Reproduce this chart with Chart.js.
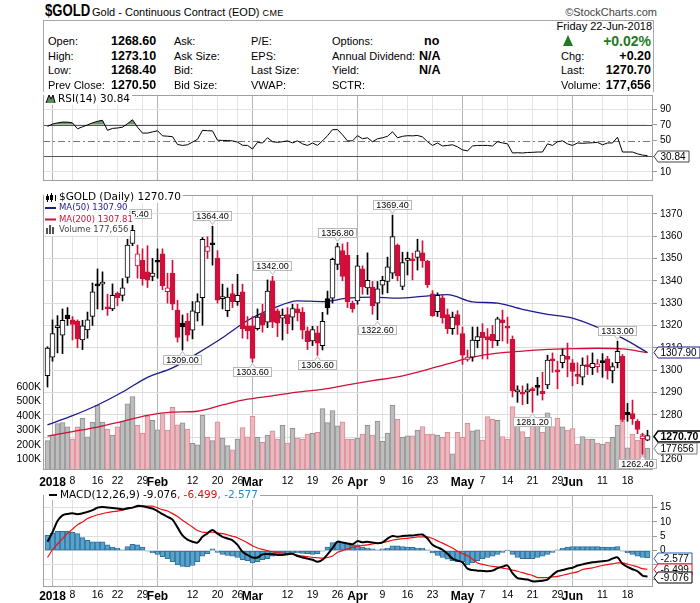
<!DOCTYPE html>
<html>
<head>
<meta charset="utf-8">
<title>$GOLD</title>
<script src="https://cdn.jsdelivr.net/npm/chart.js@4.4.1/dist/chart.umd.min.js"></script>
<style>
  html, body { margin: 0; padding: 0; background: #fff; }
  body { position: relative; width: 700px; height: 603px; overflow: hidden;
         font-family: "Liberation Sans", Arial, sans-serif; color: #000; }
  canvas { position: absolute; left: 0; }
  .t { position: absolute; white-space: nowrap; line-height: 1; transform: translateY(-50%); }
  .l { font-size: 11px; }
  .v { font-size: 12.5px; font-weight: bold; }
  .g { font-size: 14px; font-weight: bold; color: #1f7a1f; }
  #info { position: absolute; left: 43px; top: 20px; width: 609px; height: 71px;
          border: 1px solid #a8a8a8; border-bottom: none; }
</style>
</head>
<body>
<div class="t" style="left:45px;top:11px;font-size:16px;font-weight:bold;transform:translateY(-50%) scaleX(.82);transform-origin:0 50%;">$GOLD</div>
<div class="t" style="left:92px;top:12px;font-size:11px;">Gold - Continuous Contract (EOD) <span style="font-size:9px;letter-spacing:.4px">CME</span></div>
<div class="t" style="left:657px;top:12px;font-size:11px;color:#444;transform:translate(-100%,-50%)">&copy;StockCharts.com</div>
<div id="info"></div>
<div style="position:absolute;left:563px;top:35px;width:0;height:0;border-left:5.5px solid transparent;border-right:5.5px solid transparent;border-bottom:11px solid #1f7a1f;"></div>

<canvas id="rsi" width="700" height="104" style="top:86px"></canvas>
<canvas id="price" width="700" height="304" style="top:186px"></canvas>
<canvas id="macd" width="700" height="117" style="top:486px"></canvas>

<script>
// Daily OHLC, 29-Dec-2017 .. 22-Jun-2018 (121 sessions)
const openP = [1297.5,1305.8,1319.0,1315.7,1324.7,1322.5,1322.0,1313.5,1318.0,1324.1,
  1338.0,1338.5,1328.0,1327.4,1334.4,1333.5,1341.5,1356.7,1346.6,1349.2,
  1344.0,1341.9,1348.5,1352.1,1335.1,1343.4,1326.9,1321.1,1321.8,1317.9,
  1325.6,1332.4,1353.1,1356.4,1350.2,1332.0,1326.6,1334.3,1330.7,1335.1,
  1319.8,1319.8,1318.6,1325.4,1321.5,1340.0,1326.6,1323.3,1324.9,1323.7,
  1327.4,1325.9,1317.6,1313.1,1316.7,1310.9,1332.0,1332.2,1347.3,1353.5,
  1351.4,1330.0,1331.0,1345.3,1336.8,1337.2,1330.0,1338.0,1339.7,1343.4,
  1356.0,1337.5,1349.1,1349.6,1350.5,1352.5,1348.8,1334.2,1326.2,1332.4,
  1324.9,1318.6,1324.9,1316.4,1304.8,1305.8,1313.2,1316.9,1315.0,1316.0,
  1313.2,1322.5,1319.3,1313.8,1290.2,1290.2,1290.2,1290.9,1292.4,1290.5,
  1293.4,1305.1,1299.4,1303.3,1306.2,1303.3,1297.8,1296.8,1302.2,1301.1,
  1301.6,1303.6,1305.1,1299.7,1303.3,1306.2,1281.1,1280.5,1277.1,1269.3,
  1268.6];
const highP = [1310.5,1322.5,1324.4,1327.4,1328.0,1324.0,1322.5,1322.3,1326.0,1339.0,
  1345.3,1344.0,1334.0,1338.6,1335.0,1341.0,1358.6,1365.4,1356.0,1354.3,
  1355.7,1350.0,1354.3,1354.3,1343.4,1349.2,1331.3,1324.7,1325.4,1330.7,
  1334.2,1359.4,1359.7,1364.4,1353.5,1338.5,1336.8,1338.5,1342.9,1338.5,
  1324.0,1324.0,1327.4,1329.5,1340.4,1342.0,1327.4,1327.4,1328.0,1329.5,
  1329.5,1328.0,1319.3,1319.6,1319.6,1325.9,1335.4,1350.2,1356.8,1356.5,
  1357.2,1331.0,1351.4,1346.7,1352.5,1339.7,1339.7,1342.0,1350.6,1369.4,
  1356.5,1352.8,1352.8,1352.4,1358.6,1357.9,1349.2,1335.6,1334.6,1333.6,
  1327.4,1326.0,1326.6,1319.3,1309.0,1319.3,1319.3,1320.8,1318.6,1320.0,
  1323.7,1326.9,1323.7,1315.3,1293.0,1293.0,1293.9,1292.4,1296.8,1299.0,
  1306.7,1307.7,1304.0,1309.5,1312.1,1304.8,1303.3,1305.5,1306.5,1307.7,
  1304.8,1307.4,1306.2,1303.3,1313.0,1307.0,1285.1,1286.6,1277.9,1271.8,
  1273.1];
const lowP = [1292.4,1304.0,1307.7,1307.4,1320.0,1313.5,1310.0,1309.2,1314.3,1320.0,
  1327.4,1327.0,1324.5,1326.6,1328.8,1331.0,1339.0,1355.7,1341.2,1338.0,
  1337.0,1340.0,1341.2,1336.0,1330.0,1327.0,1312.6,1309.0,1313.0,1314.0,
  1322.0,1320.1,1350.0,1347.0,1330.0,1327.4,1324.0,1328.0,1329.0,1314.3,
  1314.0,1303.6,1317.9,1317.0,1319.0,1319.0,1315.0,1313.5,1316.4,1318.0,
  1322.0,1314.0,1309.2,1311.0,1306.6,1309.0,1325.0,1330.0,1345.0,1340.0,
  1328.0,1325.9,1329.5,1334.0,1333.9,1325.0,1322.6,1334.0,1334.6,1341.0,
  1340.0,1336.0,1342.6,1340.4,1344.8,1346.0,1337.0,1324.0,1324.0,1321.0,
  1316.4,1316.0,1316.0,1302.6,1304.0,1304.0,1310.0,1305.0,1305.0,1310.0,
  1311.0,1313.0,1312.0,1288.0,1285.6,1284.5,1285.0,1281.2,1288.8,1286.6,
  1291.7,1299.0,1291.7,1301.0,1297.0,1293.0,1293.9,1293.4,1298.0,1298.0,
  1299.0,1296.8,1296.0,1294.3,1301.0,1277.0,1277.1,1275.7,1271.6,1262.4,
  1268.4];
const closeP = [1309.9,1316.4,1319.4,1322.3,1323.0,1320.5,1314.0,1319.8,1322.5,1335.0,
  1337.7,1338.9,1327.4,1333.5,1332.4,1336.8,1356.0,1362.6,1352.1,1340.9,
  1340.3,1343.4,1348.3,1337.8,1336.8,1329.5,1314.7,1319.3,1315.7,1326.6,
  1330.7,1358.6,1355.3,1356.1,1331.3,1332.3,1332.7,1330.7,1333.5,1318.6,
  1317.6,1305.2,1323.7,1320.1,1335.4,1321.5,1321.0,1324.7,1320.8,1327.6,
  1325.6,1317.9,1312.8,1318.2,1312.1,1321.8,1327.8,1349.6,1355.3,1341.9,
  1330.7,1327.4,1346.7,1337.2,1340.2,1328.8,1336.4,1340.2,1346.3,1359.8,
  1342.2,1348.2,1350.0,1348.9,1353.4,1348.9,1338.3,1324.4,1333.5,1323.4,
  1318.6,1323.7,1320.1,1306.7,1305.8,1313.5,1315.0,1314.5,1313.5,1313.1,
  1323.0,1321.1,1318.8,1290.7,1291.2,1289.2,1291.2,1290.8,1292.3,1289.5,
  1304.5,1304.1,1299.2,1306.7,1304.8,1299.4,1297.2,1302.3,1301.6,1303.0,
  1302.8,1303.4,1299.7,1301.6,1308.4,1277.9,1280.0,1278.2,1273.5,1270.5,
  1270.7];
// volume in thousands of contracts
const volumeK = [229,270,347,354,324,240,324,383,256,358,
  474,358,309,268,324,365,485,535,336,279,
  399,370,304,415,302,460,338,352,309,211,
  200,404,252,229,360,247,195,166,240,320,
  256,397,252,218,268,297,240,336,213,315,
  247,240,274,279,286,451,354,438,331,360,
  240,240,247,274,336,268,365,224,281,474,
  376,252,263,263,302,327,274,274,268,252,
  286,138,286,252,349,297,304,233,395,376,
  370,258,240,465,392,292,252,370,354,286,
  422,327,383,324,302,313,206,258,240,240,
  213,206,218,252,336,376,179,274,233,274,
  177.656];

// moving averages read weekly (every 5th session)
const maIdx = [0,5,10,15,20,25,30,35,40,45,50,55,60,65,70,75,80,85,90,95,100,105,110,115,120];
const ma50 = [1275.5,1279.6,1284.4,1290.2,1296.8,1301.0,1307.5,1314.5,1322.2,1327.5,1331.0,1330.7,
  1332.2,1332.7,1332.2,1333.0,1333.8,1330.6,1330.0,1327.2,1325.0,1323.3,1319.2,1314.3,1307.9];
const ma200 = [1270.5,1272.5,1274.5,1277.1,1279.8,1281.2,1281.6,1284.4,1287.0,1288.5,1290.2,1291.4,
  1293.4,1295.3,1297.0,1299.7,1302.8,1305.8,1307.6,1308.5,1309.3,1309.6,1309.8,1309.5,1307.81];

const rsi = [68,71,72.5,73.5,73.5,72.5,65,67.5,70,72.5,
  74.5,75.8,63,65.5,66,67,71.5,76.5,67,59.5,
  59.5,61,62.5,56,55.5,55,45,43.8,44.6,48,
  51.5,63,62.5,62.3,50.4,50.2,50,49.6,48,44,
  43.8,39.2,47.7,46.9,53.5,48.5,47.7,48.5,49.6,47,
  49.6,45.8,43.8,46.9,43.8,49.6,56.2,63.8,64,57.3,
  49.6,49.6,56.2,52.3,53.5,48.5,52.3,53.5,55.4,61.2,
  53.5,55.4,56.2,56,56.5,54.6,48.5,43.8,46.9,43.1,
  43.8,44.6,42,38.1,36.9,43.1,43.8,43.8,43.8,43.1,
  48.5,47,45.8,34.2,34.5,34.2,34.8,35,35.4,35.4,
  45.8,43.8,48.5,49.6,45.8,43.8,46.9,46.5,46.9,47.2,
  47.7,44.6,46.9,47,54.2,35.4,35.4,35.4,33.1,31.5,
  30.84];

const macdLine = [3.1,6.4,10.3,12.3,12.8,13.0,12.7,13.0,13.5,14.1,
  15.0,15.2,15.0,14.9,14.7,14.4,14.8,15.0,15.6,15.5,
  15.1,14.7,13.8,12.7,11.8,10.8,8.1,5.3,3.8,3.1,
  2.8,4.8,6.0,7.2,5.9,4.8,4.2,3.6,2.0,-0.4,
  -1.5,-2.4,-2.4,-1.3,-1.2,-1.3,-1.5,-1.5,-1.3,-1.1,
  -1.9,-2.4,-2.8,-3.2,-3.9,-3.2,-1.3,0.9,3.1,2.8,
  2.5,2.2,3.3,2.9,3.1,2.8,2.6,2.9,4.2,5.1,
  4.8,5.1,5.2,5.3,5.5,5.6,4.2,2.0,1.1,0.3,
  -1.1,-2.8,-3.5,-4.1,-6.3,-6.8,-7.0,-7.1,-7.2,-7.0,
  -6.1,-5.6,-5.2,-7.9,-9.6,-9.9,-10.1,-10.7,-10.7,-10.5,
  -10.1,-8.5,-7.2,-6.8,-6.3,-6.0,-5.2,-4.8,-4.4,-4.1,
  -3.9,-3.7,-3.5,-2.8,-2.4,-4.6,-5.7,-6.5,-7.2,-8.7,
  -9.076];
const signalLine = [-2.4,0.3,2.3,4.2,6.0,7.5,9.0,10.0,11.2,11.9,
  12.5,12.9,13.3,13.6,13.8,14.1,14.5,15.0,15.3,15.5,
  15.5,15.5,14.9,14.3,13.8,12.9,11.9,10.6,9.4,8.2,
  7.0,6.4,6.4,6.4,6.2,5.9,5.5,5.0,4.5,3.6,
  2.7,1.7,0.9,0.4,0.0,-0.4,-0.7,-0.9,-1.1,-1.3,
  -1.6,-1.9,-2.1,-2.4,-2.5,-2.6,-2.4,-1.9,-0.6,0.0,
  0.6,1.1,1.5,1.8,2.0,2.3,2.6,2.8,3.2,3.6,
  3.9,4.2,4.3,4.5,4.8,4.8,4.8,4.2,3.4,2.6,
  1.8,0.9,-0.2,-1.0,-1.8,-3.0,-4.3,-4.8,-5.2,-5.5,
  -5.7,-6.1,-6.4,-6.8,-7.2,-7.7,-8.2,-8.7,-9.4,-9.4,
  -9.4,-9.2,-9.0,-8.6,-8.2,-7.8,-7.4,-6.6,-6.3,-6.0,
  -5.6,-5.2,-4.9,-4.6,-4.3,-4.3,-4.7,-5.2,-5.7,-6.3,
  -6.499];
const macdHist = [5.3,6.1,6.7,6.7,6.7,6.4,5.9,4.5,3.6,3.1,
  3.1,3.1,2.0,1.2,0.9,0.3,1.4,2.2,2.0,1.2,
  -0.2,-0.8,-1.3,-2.1,-2.8,-3.9,-5.0,-5.5,-5.7,-5.2,
  -3.9,-1.9,-1.1,0.6,-0.6,-1.3,-1.7,-1.9,-2.4,-3.2,
  -3.5,-4.3,-3.9,-3.2,-2.8,-1.9,-1.3,-1.0,-1.0,-0.8,
  -0.8,-1.0,-1.1,-1.3,-1.1,-0.2,1.2,2.8,3.1,2.9,
  2.6,2.0,2.0,1.2,0.9,0.6,0.3,0.6,0.9,1.7,
  1.7,1.4,1.2,1.1,0.9,0.9,0.3,-0.8,-1.7,-2.4,
  -3.0,-3.5,-3.9,-3.9,-5.0,-4.3,-3.5,-2.8,-2.4,-1.9,
  -1.3,-0.6,0.1,-1.3,-2.4,-2.8,-2.8,-2.8,-2.4,-1.9,
  -1.3,-0.6,0.3,0.9,1.2,1.4,1.4,1.4,1.4,1.4,
  1.4,1.2,1.2,1.2,1.4,-0.2,-0.8,-1.3,-1.9,-2.4,
  -2.577];

// date axis: session index of each labelled week / month start
const tickIdx  = [1,5,10,14,19,22,29,34,38,41,48,53,58,62,67,72,77,83,87,92,97,102,105,111,116];
const tickText = ['2018','8','16','22','29','Feb','12','20','26','Mar','12','19','26','Apr','9','16','23','May','7','14','21','29','Jun','11','18'];

const priceTicks = [1260,1270,1280,1290,1300,1310,1320,1330,1340,1350,1360,1370];
const volTicks = [100000,200000,300000,400000,500000,600000];
const rsiTicks = [10,30,50,70,90];
const macdTicks = [-10,-5,0,5,10,15];

const highLabelIdx = [17,33,45,58,69,114];
const lowLabelIdx = [27,41,54,66,97,119];

const infoItems = [
  ['Open:', 48, 41, 'l'], ['1268.60', 111, 41, 'v'], ['Ask:', 174, 41, 'l'], ['P/E:', 251, 41, 'l'], ['Options:', 332, 41, 'l'], ['no', 424, 41, 'v'],
  ['High:', 48, 55.5, 'l'], ['1273.10', 111, 55.5, 'v'], ['Ask Size:', 174, 55.5, 'l'], ['EPS:', 251, 55.5, 'l'], ['Annual Dividend:', 332, 55.5, 'l'], ['N/A', 419, 55.5, 'v'],
  ['Low:', 48, 70, 'l'], ['1268.40', 111, 70, 'v'], ['Bid:', 174, 70, 'l'], ['Last Size:', 251, 70, 'l'], ['Yield:', 332, 70, 'l'], ['N/A', 419, 70, 'v'],
  ['Prev Close:', 48, 84.5, 'l'], ['1270.50', 111, 84.5, 'v'], ['Bid Size:', 174, 84.5, 'l'], ['VWAP:', 251, 84.5, 'l'], ['SCTR:', 332, 84.5, 'l'],
  ['Friday  22-Jun-2018', 652, 26, 'l', 'r'],
  ['+0.02%', 651, 41, 'g', 'r'],
  ['Chg:', 561, 55.5, 'l'], ['+0.20', 651, 55.5, 'v', 'r'],
  ['Last:', 561, 70, 'l'], ['1270.70', 651, 70, 'v', 'r'],
  ['Volume:', 561, 84.5, 'l'], ['177,656', 651, 84.5, 'v', 'r']
];

infoItems.forEach(([text, x, y, cls, align]) => {
  const d = document.createElement('div');
  d.className = 't ' + cls;
  d.textContent = text;
  d.style.left = x + 'px';
  d.style.top = y + 'px';
  if (align === 'r') d.style.transform = 'translate(-100%,-50%)';
  document.body.appendChild(d);
});

const SANS = '"Liberation Sans", Arial, Helvetica, sans-serif';
const VERD = '"DejaVu Sans", Verdana, sans-serif';
const UP = '#000000', DOWN = '#d0103a';

const n = closeP.length;
const idx = closeP.map((_, i) => i);
const volume = volumeK.map(v => Math.round(v * 1000));
const upDay = closeP.map((c, i) => i === 0 || c >= closeP[i - 1]);
const candleColor = upDay.map(u => u ? UP : DOWN);
const bodyFill = closeP.map((c, i) => c > openP[i] ? '#ffffff' : candleColor[i]);

const isMonth = k => (tickText[k] || '').length >= 3;

function timeAxis(labelH, pad) {
  return {
    type: 'linear', min: -0.9, max: 121.1, offset: false, bounds: 'data',
    afterBuildTicks: s => { s.ticks = tickIdx.map(v => ({ value: v })); },
    afterFit: s => { s.height = labelH; },
    ticks: {
      display: labelH > 0, autoSkip: false, maxRotation: 0, minRotation: 0, padding: pad, color: '#000',
      callback: v => tickText[tickIdx.indexOf(v)] || '',
      font: c => isMonth(c.index) ? { family: SANS, size: 12, weight: 'bold' } : { family: SANS, size: 10.5 }
    },
    grid: {
      drawTicks: false, offset: false,
      color: c => (c.tick && isMonth(tickIdx.indexOf(c.tick.value))) ? '#b4b4b4' : '#e3e3e3'
    },
    border: { display: false }
  };
}

function rightAxis(min, max, ticks, fmt, gridColor) {
  return {
    position: 'right', min, max, beginAtZero: false, bounds: 'data',
    afterBuildTicks: s => { s.ticks = ticks.map(v => ({ value: v })); },
    afterFit: s => { s.width = 47; },
    ticks: { font: { family: SANS, size: 10 }, color: '#000', padding: 3, callback: fmt },
    grid: { color: gridColor, tickLength: 4, tickColor: '#999' },
    border: { display: false }
  };
}

function drawFrame(ctx, a) {
  ctx.save();
  ctx.strokeStyle = '#a0a0a0';
  ctx.lineWidth = 1;
  ctx.strokeRect(Math.round(a.left) + 0.5, Math.round(a.top) + 0.5,
    Math.round(a.right - a.left) - 1, Math.round(a.bottom - a.top) - 1);
  ctx.restore();
}

// value tag on the right axis, with its point on the axis
function tag(ctx, x, y, text, opt) {
  ctx.save();
  ctx.font = opt.font || ('10px ' + SANS);
  const w = Math.ceil(ctx.measureText(text).width) + 5, h = 11;
  const x0 = x + 4;
  y = Math.round(y) + 0.5;
  ctx.beginPath();
  ctx.moveTo(x, y);
  ctx.lineTo(x0, y - h / 2);
  ctx.lineTo(x0 + w, y - h / 2);
  ctx.lineTo(x0 + w, y + h / 2);
  ctx.lineTo(x0, y + h / 2);
  ctx.closePath();
  ctx.fillStyle = '#fff';
  ctx.fill();
  ctx.lineWidth = opt.lw || 1;
  ctx.strokeStyle = opt.stroke;
  ctx.stroke();
  ctx.fillStyle = opt.color || '#000';
  ctx.textAlign = 'left';
  ctx.textBaseline = 'middle';
  ctx.fillText(text, x0 + 2.5, y + 0.5);
  ctx.restore();
}

// high / low call-out box on the price panel
function noteBox(ctx, a, x, y, text, above) {
  ctx.save();
  ctx.font = '9px ' + SANS;
  const w = Math.round(ctx.measureText(text).width) + 6, h = 10;
  let left = Math.round(x - w / 2);
  left = Math.min(left, Math.round(a.right) + 4 - w);
  const top = above ? Math.round(y - 5 - h) : Math.round(y + 5);
  ctx.fillStyle = '#fff';
  ctx.strokeStyle = '#b8b8b8';
  ctx.lineWidth = 1;
  ctx.fillRect(left, top, w, h);
  ctx.strokeRect(left + 0.5, top + 0.5, w - 1, h - 1);
  ctx.beginPath();
  if (above) {
    ctx.moveTo(x - 3, top + h - 0.5); ctx.lineTo(x, top + h + 3.5); ctx.lineTo(x + 3, top + h - 0.5);
  } else {
    ctx.moveTo(x - 3, top + 0.5); ctx.lineTo(x, top - 3.5); ctx.lineTo(x + 3, top + 0.5);
  }
  ctx.fill();
  ctx.stroke();
  ctx.fillStyle = '#000';
  ctx.textAlign = 'center';
  ctx.textBaseline = 'middle';
  ctx.fillText(text, left + w / 2, top + h / 2 + 0.5);
  ctx.restore();
}

function legendText(ctx, x, y, text, font, color) {
  ctx.font = font;
  const w = ctx.measureText(text).width;
  ctx.fillStyle = '#fff';
  ctx.fillRect(44, Math.round(y - 5.5), x - 44 + w + 2, 11);
  ctx.fillStyle = color;
  ctx.textAlign = 'left';
  ctx.textBaseline = 'middle';
  ctx.fillText(text, x, y);
}

const noEvents = { events: [], animation: false, responsive: false };

// ---------- RSI ----------
new Chart(document.getElementById('rsi'), {
  type: 'line',
  data: {
    datasets: [{
      data: idx.map(i => ({ x: i, y: rsi[i] })),
      borderColor: '#000', borderWidth: 1, pointRadius: 0, tension: 0,
      fill: { target: { value: 70 }, above: 'rgba(92,138,92,0.9)', below: 'rgba(0,0,0,0)' }
    }]
  },
  options: {
    ...noEvents,
    layout: { padding: { left: 43, right: 0, top: 5, bottom: 4 }, autoPadding: false },
    plugins: { legend: { display: false }, tooltip: { enabled: false } },
    scales: {
      x: timeAxis(0, 0),
      y: rightAxis(-1.5, 108, rsiTicks, v => v === 30 ? '' : String(v),
        c => (c.tick && (c.tick.value === 10 || c.tick.value === 90)) ? '#e3e3e3' : 'rgba(0,0,0,0)')
    }
  },
  plugins: [{
    id: 'rsiDecor',
    beforeDatasetsDraw(chart) {
      const { ctx, chartArea: a, scales: { y } } = chart;
      ctx.save();
      ctx.lineWidth = 1;
      [[70, []], [30, []], [50, [7, 3, 2, 3]]].forEach(([v, dash]) => {
        const py = Math.round(y.getPixelForValue(v)) + 0.5;
        ctx.strokeStyle = v === 50 ? '#777' : '#555';
        ctx.setLineDash(dash);
        ctx.beginPath(); ctx.moveTo(a.left, py); ctx.lineTo(a.right, py); ctx.stroke();
      });
      ctx.restore();
    },
    afterDraw(chart) {
      const { ctx, chartArea: a, scales: { y } } = chart;
      drawFrame(ctx, a);
      ctx.save();
      legendText(ctx, 58, 13, 'RSI(14) ' + rsi[n - 1].toFixed(2), '10.5px ' + VERD, '#000');
      // little RSI icon, drawn over the white label backing
      ctx.fillStyle = '#5c8a5c';
      ctx.beginPath(); ctx.moveTo(46, 17); ctx.lineTo(49, 9); ctx.lineTo(51, 13); ctx.lineTo(53, 9); ctx.lineTo(55, 17); ctx.closePath(); ctx.fill();
      ctx.strokeStyle = '#000'; ctx.lineWidth = 1;
      ctx.beginPath(); ctx.moveTo(46, 17); ctx.lineTo(49, 9); ctx.lineTo(51, 13); ctx.lineTo(53, 9); ctx.lineTo(55, 17); ctx.stroke();
      ctx.restore();
      tag(ctx, a.right + 1, y.getPixelForValue(rsi[n - 1]), rsi[n - 1].toFixed(2), { stroke: '#444' });
    }
  }]
});

// ---------- Price + volume ----------
new Chart(document.getElementById('price'), {
  type: 'bar',
  data: {
    datasets: [
      {
        type: 'bar', order: 1, yAxisID: 'y', grouped: false,
        data: idx.map(i => ({ x: i, y: [openP[i], closeP[i]] })),
        backgroundColor: bodyFill, borderColor: candleColor, borderWidth: 1,
        borderSkipped: false, barThickness: 5, minBarLength: 2
      },
      {
        type: 'bar', order: 2, yAxisID: 'y', grouped: false,
        data: idx.map(i => ({ x: i, y: [lowP[i], highP[i]] })),
        backgroundColor: candleColor, borderWidth: 0, barThickness: 1
      },
      {
        type: 'line', order: 3, yAxisID: 'y',
        data: maIdx.map((x, k) => ({ x, y: ma50[k] })),
        borderColor: '#1c1c8c', borderWidth: 1.3, pointRadius: 0, cubicInterpolationMode: 'monotone'
      },
      {
        type: 'line', order: 4, yAxisID: 'y',
        data: maIdx.map((x, k) => ({ x, y: ma200[k] })),
        borderColor: '#d0103a', borderWidth: 1.3, pointRadius: 0, cubicInterpolationMode: 'monotone'
      },
      {
        type: 'bar', order: 5, yAxisID: 'yv', grouped: false,
        data: idx.map(i => ({ x: i, y: volume[i] })),
        backgroundColor: upDay.map(u => u ? '#bdbdbd' : '#eab8be'),
        borderColor: upDay.map(u => u ? '#8f8f8f' : '#d98b96'),
        borderWidth: 1, borderSkipped: false, barThickness: 5
      }
    ]
  },
  options: {
    ...noEvents,
    layout: { padding: { left: 0, right: 0, top: 2, bottom: 0 }, autoPadding: false },
    plugins: { legend: { display: false }, tooltip: { enabled: false } },
    scales: {
      x: timeAxis(20, 5),
      y: rightAxis(1255.3, 1378.4, priceTicks, v => String(v), '#dcdcdc'),
      yv: {
        position: 'left', min: 25700, max: 1931000, beginAtZero: false, bounds: 'data',
        afterBuildTicks: s => { s.ticks = volTicks.map(v => ({ value: v })); },
        afterFit: s => { s.width = 43; },
        ticks: { font: { family: SANS, size: 10.5 }, color: '#000', padding: 2, callback: v => (v / 1000) + 'K' },
        grid: { drawOnChartArea: false, drawTicks: false },
        border: { display: false }
      }
    }
  },
  plugins: [{
    id: 'priceDecor',
    afterDraw(chart) {
      const { ctx, chartArea: a, scales } = chart;
      const xs = scales.x, ys = scales.y, yv = scales.yv;
      drawFrame(ctx, a);
      highLabelIdx.forEach(i => noteBox(ctx, a, xs.getPixelForValue(i), ys.getPixelForValue(highP[i]), highP[i].toFixed(2), true));
      lowLabelIdx.forEach(i => noteBox(ctx, a, xs.getPixelForValue(i), ys.getPixelForValue(lowP[i]), lowP[i].toFixed(2), false));

      ctx.save();
      const last = n - 1;
      legendText(ctx, 59, 11.5, '$GOLD (Daily) ' + closeP[last].toFixed(2), '10.5px ' + VERD, '#000');
      legendText(ctx, 59, 22, 'MA(50) ' + ma50[ma50.length - 1].toFixed(2), '8.5px ' + VERD, '#1c1c8c');
      legendText(ctx, 59, 33.5, 'MA(200) ' + ma200[ma200.length - 1].toFixed(2), '8.5px ' + VERD, '#d0103a');
      legendText(ctx, 59, 44, 'Volume ' + volume[last].toLocaleString('en-US'), '8.5px ' + VERD, '#444');
      // icons
      ctx.fillStyle = '#000';
      ctx.fillRect(47, 8, 1, 8); ctx.fillRect(46, 10, 3, 4);
      ctx.fillRect(51, 7, 1, 9); ctx.strokeStyle = '#000'; ctx.lineWidth = 1; ctx.strokeRect(50.5, 9.5, 2, 4);
      ctx.fillRect(55, 9, 1, 6);
      ctx.fillStyle = '#1c1c8c'; ctx.fillRect(45, 21, 11, 2);
      ctx.fillStyle = '#d0103a'; ctx.fillRect(45, 32.5, 11, 2);
      ctx.fillStyle = '#555';
      ctx.fillRect(46, 42, 2, 6); ctx.fillRect(49, 39, 2, 9); ctx.fillRect(52, 41, 2, 7);
      ctx.restore();

      tag(ctx, a.right + 1, ys.getPixelForValue(ma50[ma50.length - 1]), ma50[ma50.length - 1].toFixed(2), { stroke: '#1c1c8c' });
      tag(ctx, a.right + 1, ys.getPixelForValue(closeP[last]), closeP[last].toFixed(2), { stroke: '#000', lw: 1.5, font: 'bold 10.5px ' + SANS });
      tag(ctx, a.right + 1, yv.getPixelForValue(volume[last]), String(volume[last]), { stroke: '#777' });
    }
  }]
});

// ---------- MACD ----------
new Chart(document.getElementById('macd'), {
  type: 'bar',
  data: {
    datasets: [
      {
        type: 'line', order: 1,
        data: idx.map(i => ({ x: i, y: macdLine[i] })),
        borderColor: '#000', borderWidth: 2, pointRadius: 0, tension: 0.3
      },
      {
        type: 'line', order: 2,
        data: idx.map(i => ({ x: i, y: signalLine[i] })),
        borderColor: '#f01010', borderWidth: 1.2, pointRadius: 0, tension: 0.3
      },
      {
        type: 'bar', order: 3, grouped: false,
        data: idx.map(i => ({ x: i, y: macdHist[i] })),
        backgroundColor: '#58a2cb', borderColor: '#2f6f98', borderWidth: 1,
        borderSkipped: false, barThickness: 5
      }
    ]
  },
  options: {
    ...noEvents,
    layout: { padding: { left: 43, right: 0, top: 3, bottom: 0 }, autoPadding: false },
    plugins: { legend: { display: false }, tooltip: { enabled: false } },
    scales: {
      x: timeAxis(16, 2),
      y: rightAxis(-12.7, 19.4, macdTicks, v => String(v), '#e0e0e0')
    }
  },
  plugins: [{
    id: 'macdDecor',
    afterDraw(chart) {
      const { ctx, chartArea: a, scales: { y } } = chart;
      drawFrame(ctx, a);
      ctx.save();
      const font = '10.5px ' + VERD;
      const parts = [
        ['MACD(12,26,9) ' + macdLine[n - 1].toFixed(3), '#000'],
        [', ' + signalLine[n - 1].toFixed(3), '#e01010'],
        [', ' + macdHist[n - 1].toFixed(3), '#2a8ac4']
      ];
      ctx.font = font;
      let total = 0;
      parts.forEach(p => { total += ctx.measureText(p[0]).width; });
      ctx.fillStyle = '#fff';
      ctx.fillRect(44, 3, 16 + total + 2, 11);
      ctx.fillStyle = '#000';
      ctx.fillRect(49, 8, 8, 2);
      let x = 60;
      ctx.textBaseline = 'middle';
      ctx.textAlign = 'left';
      parts.forEach(([t, c]) => {
        ctx.fillStyle = c;
        ctx.fillText(t, x, 9);
        x += ctx.measureText(t).width;
      });
      ctx.restore();
      tag(ctx, a.right + 1, y.getPixelForValue(macdHist[n - 1]), macdHist[n - 1].toFixed(3), { stroke: '#2a5db0' });
      tag(ctx, a.right + 1, y.getPixelForValue(signalLine[n - 1]), signalLine[n - 1].toFixed(3), { stroke: '#e01010' });
      tag(ctx, a.right + 1, y.getPixelForValue(macdLine[n - 1]), macdLine[n - 1].toFixed(3), { stroke: '#000' });
    }
  }]
});
</script>
</body>
</html>
